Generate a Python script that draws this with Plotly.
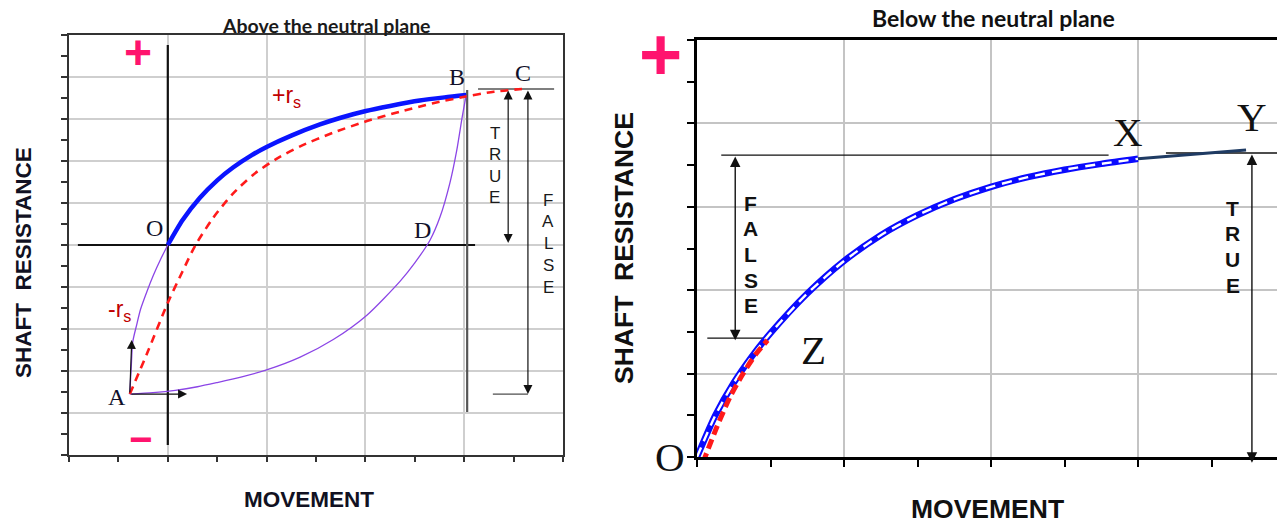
import plotly.graph_objects as go

# ---------------- Left panel: "Above the neutral plane" ----------------
L_blue_x = [2.0, 2.3, 2.65, 3.0, 3.32, 3.7, 4.0, 4.5, 5.08, 5.5, 6.01, 6.5, 7.1, 7.6, 8.04]
L_blue_y = [10.0, 11.19, 12.25, 13.08, 13.69, 14.28, 14.67, 15.21, 15.74, 16.06, 16.38, 16.62, 16.88, 17.03, 17.14]

L_red_x = [1.23, 1.6, 2.0, 2.3, 2.55, 2.92, 3.3, 3.73, 4.2, 4.68, 5.35, 6.03, 6.7, 7.37, 7.98, 8.6, 9.17]
L_red_y = [2.9, 4.95, 7.25, 8.75, 9.95, 11.3, 12.4, 13.35, 14.1, 14.7, 15.35, 15.9, 16.35, 16.75, 17.05, 17.3, 17.43]

L_pur1_x = [1.23, 1.26, 1.29, 1.37, 1.45, 1.58, 1.71, 1.85, 2.0]
L_pur1_y = [2.9, 4.2, 5.38, 6.2, 6.95, 7.8, 8.57, 9.3, 10.0]

L_pur2_x = [1.23, 1.7, 2.15, 2.6, 3.0, 3.5, 4.0, 4.68, 5.35, 6.03, 6.7, 7.0, 7.31, 7.51, 7.71, 7.85, 7.96, 8.04]
L_pur2_y = [2.9, 2.97, 3.08, 3.25, 3.45, 3.72, 4.05, 4.66, 5.5, 6.66, 8.27, 9.15, 10.24, 11.33, 12.95, 14.52, 16.1, 17.14]

L_hax_x = [0.18, 8.22]; L_hax_y = [10.0, 10.0]          # horizontal zero line through O
L_vax_x = [2.0, 2.0];   L_vax_y = [0.48, 19.52]         # vertical zero line through O
L_bv_x = [8.06, 8.06];  L_bv_y = [2.05, 17.38]          # vertical line below B
L_ct_x = [8.28, 9.82];  L_ct_y = [17.43, 17.43]         # level of C
L_fb_x = [8.58, 9.29];  L_fb_y = [2.9, 2.9]             # level of A (false bottom)

L_points = ["B", "C", "O", "D", "A"]
L_points_x = [7.85, 9.19, 1.74, 7.15, 0.97]
L_points_y = [18.0, 18.2, 10.8, 10.7, 2.76]

# ---------------- Right panel: "Below the neutral plane" ----------------
R_blue_x = [0.0, 0.25, 0.5, 0.75, 1.0, 1.5, 2.0, 2.5, 3.0, 3.5, 4.0, 4.5, 5.0, 5.5, 6.0]
R_blue_y = [0.0, 1.0, 1.78, 2.42, 2.97, 3.92, 4.7, 5.32, 5.8, 6.18, 6.48, 6.71, 6.89, 7.03, 7.15]

R_red_x = [0.08, 0.27, 0.45, 0.63, 0.81, 0.96]
R_red_y = [-0.14, 0.72, 1.44, 2.01, 2.49, 2.8]

R_navy_x = [6.0, 7.47]
R_navy_y = [7.15, 7.36]

R_fl_x = [0.33, 5.6];  R_fl_y = [7.24, 7.24]
R_yl_x = [6.38, 7.95]; R_yl_y = [7.29, 7.29]
R_zl_x = [0.14, 0.95]; R_zl_y = [2.85, 2.85]

R_points = ["X", "Y", "Z"]
R_points_x = [5.86, 7.55, 1.59]
R_points_y = [7.8, 8.15, 2.57]

W, H = 1277, 523
fig = go.Figure()

def line(x, y, color, width, dash="solid", xa="x", ya="y", shape="spline"):
    fig.add_trace(go.Scatter(x=x, y=y, mode="lines", xaxis=xa, yaxis=ya,
                             line=dict(color=color, width=width, dash=dash, shape=shape, smoothing=0.7),
                             hoverinfo="skip", showlegend=False))

# left panel
line(L_hax_x, L_hax_y, "#111111", 2.2, shape="linear")
line(L_vax_x, L_vax_y, "#111111", 2.2, shape="linear")
line(L_bv_x, L_bv_y, "#555555", 2.2, shape="linear")
line(L_ct_x, L_ct_y, "#555555", 1.6, shape="linear")
line(L_fb_x, L_fb_y, "#222222", 1.0, shape="linear")
line(L_pur1_x, L_pur1_y, "#8b45e6", 1.3)
line(L_pur2_x, L_pur2_y, "#8b45e6", 1.3)
line(L_blue_x, L_blue_y, "#0a14ff", 4.5)
line(L_red_x, L_red_y, "#ff1a1a", 2.6, dash="8px,6px")

# right panel
line(R_fl_x, R_fl_y, "#111111", 1.3, xa="x2", ya="y2", shape="linear")
line(R_yl_x, R_yl_y, "#111111", 1.3, xa="x2", ya="y2", shape="linear")
line(R_zl_x, R_zl_y, "#111111", 1.3, xa="x2", ya="y2", shape="linear")
line(R_blue_x, R_blue_y, "#0a0aff", 6.5, xa="x2", ya="y2")
line(R_blue_x, R_blue_y, "#ffffff", 2.4, dash="10px,7px", xa="x2", ya="y2")
line(R_red_x, R_red_y, "#ff1a1a", 5, dash="10px,5px", xa="x2", ya="y2")
line(R_navy_x, R_navy_y, "#1f3b63", 3, xa="x2", ya="y2", shape="linear")

ann = []
def text(t, x, y, size, color="#111111", family="Liberation Sans", xref="x", yref="y", angle=0, bold=False):
    if bold:
        t = "<b>" + t + "</b>"
    ann.append(dict(text=t, x=x, y=y, xref=xref, yref=yref, showarrow=False, textangle=angle,
                    font=dict(size=size, color=color, family=family), xanchor="center", yanchor="middle"))

def arrow(x0, y0, x1, y1, xref="x", yref="y", both=False, width=1.2, size=1.5):
    ann.append(dict(text="", x=x1, y=y1, ax=x0, ay=y0, xref=xref, yref=yref, axref=xref, ayref=yref,
                    showarrow=True, arrowhead=2, arrowsize=size, arrowwidth=width, arrowcolor="#111111",
                    arrowside="end+start" if both else "end", standoff=0, startstandoff=0))

# Titles
text("Above the neutral plane", 326 / W, 1 - 25 / H, 19.5, "#1a1a1a", "Lato", "paper", "paper", bold=True)
text("Below the neutral plane", 993 / W, 1 - 18 / H, 23, "#111111", "Lato", "paper", "paper", bold=True)
text("SHAFT\u00a0 RESISTANCE", 23 / W, 1 - 263 / H, 22.5, "#111122", xref="paper", yref="paper", angle=-90, bold=True)
text("SHAFT\u00a0 RESISTANCE", 624 / W, 1 - 248 / H, 26.5, "#111111", xref="paper", yref="paper", angle=-90, bold=True)
text("MOVEMENT", 309 / W, 1 - 499 / H, 22.5, "#111122", xref="paper", yref="paper", bold=True)
text("MOVEMENT", 987 / W, 1 - 509 / H, 26.5, "#111111", xref="paper", yref="paper", bold=True)

# left labels
for s, x, y in zip(L_points, L_points_x, L_points_y):
    text(s, x, y, 24, "#10102a", "Liberation Serif")
text("+r<sub>s</sub>", 4.41, 17.05, 23, "#c00000")
text("-r<sub>s</sub>", 1.03, 6.9, 23, "#c00000")
text("+", 1.40, 19.19, 48, "#ff146e", bold=True)
text("\u2212", 1.44, 0.76, 40, "#ff146e", bold=True)
for i, ch in enumerate("TRUE"):
    text(ch, 8.62, 15.33 - 1.03 * i, 17, "#1a1a1a")
for i, ch in enumerate("FALSE"):
    text(ch, 9.70, 12.14 - 1.035 * i, 17, "#1a1a1a")
arrow(1.23, 2.9, 1.27, 5.48)
arrow(1.23, 2.9, 2.39, 2.9)
arrow(8.89, 17.43, 8.89, 10.1, both=True)
arrow(9.29, 17.43, 9.29, 2.9, both=True)

# right labels
for s, x, y in zip(R_points, R_points_x, R_points_y):
    text(s, x, y, 41, "#111111", "Liberation Serif", "x2", "y2")
text("O", 670 / W, 1 - 457 / H, 41, "#111111", "Liberation Serif", "paper", "paper")
text("+", 660 / W, 1 - 55 / H, 74, "#ff146e", xref="paper", yref="paper", bold=True)
for i, ch in enumerate("FALSE"):
    text(ch, 0.73, 6.09 - 0.617 * i, 21, "#111111", xref="x2", yref="y2", bold=True)
for i, ch in enumerate("TRUE"):
    text(ch, 7.29, 5.97 - 0.617 * i, 21, "#111111", xref="x2", yref="y2", bold=True)
arrow(0.52, 7.24, 0.52, 2.8, "x2", "y2", both=True, width=1.4)
arrow(7.55, 7.29, 7.55, -0.14, "x2", "y2", both=True, width=1.4)

def axis(domain, rng, dtick, gridcolor, linecolor, lw, ticklen, mirror):
    return dict(domain=domain, range=rng, tick0=0, dtick=dtick, showgrid=True, gridcolor=gridcolor,
                gridwidth=1.5, showline=True, linecolor=linecolor, linewidth=lw, mirror=mirror,
                ticks="outside", ticklen=ticklen, tickwidth=1.5, tickcolor=linecolor,
                showticklabels=False, zeroline=False, fixedrange=True,
                minor=dict(dtick=dtick / 2, tick0=0, ticks="outside", ticklen=ticklen,
                           tickwidth=1.5, tickcolor=linecolor, showgrid=False))

fig.update_layout(
    width=W, height=H, margin=dict(l=0, r=0, t=0, b=0),
    paper_bgcolor="white", plot_bgcolor="white", showlegend=False,
    xaxis=axis([69 / W, 563 / W], [0, 10], 2, "#cfcfcf", "#333333", 2, 5, True),
    yaxis=axis([1 - 455 / H, 1 - 35 / H], [0, 20], 2, "#cfcfcf", "#333333", 2, 6, True),
    xaxis2=axis([697 / W, 1.0], [0, 580 / 73.5], 2, "#c4c4c4", "#000000", 2.5, 7, True),
    yaxis2=axis([1 - 457 / H, 1 - 40 / H], [0, 10], 2, "#c4c4c4", "#000000", 2.5, 7, False),
    annotations=ann,
)
fig.update_layout(xaxis2=dict(anchor="y2"), yaxis2=dict(anchor="x2"))

fig.write_html("out.html", config={"displayModeBar": False},
               post_script="document.body.style.margin='0px';document.body.style.overflow='hidden';")
